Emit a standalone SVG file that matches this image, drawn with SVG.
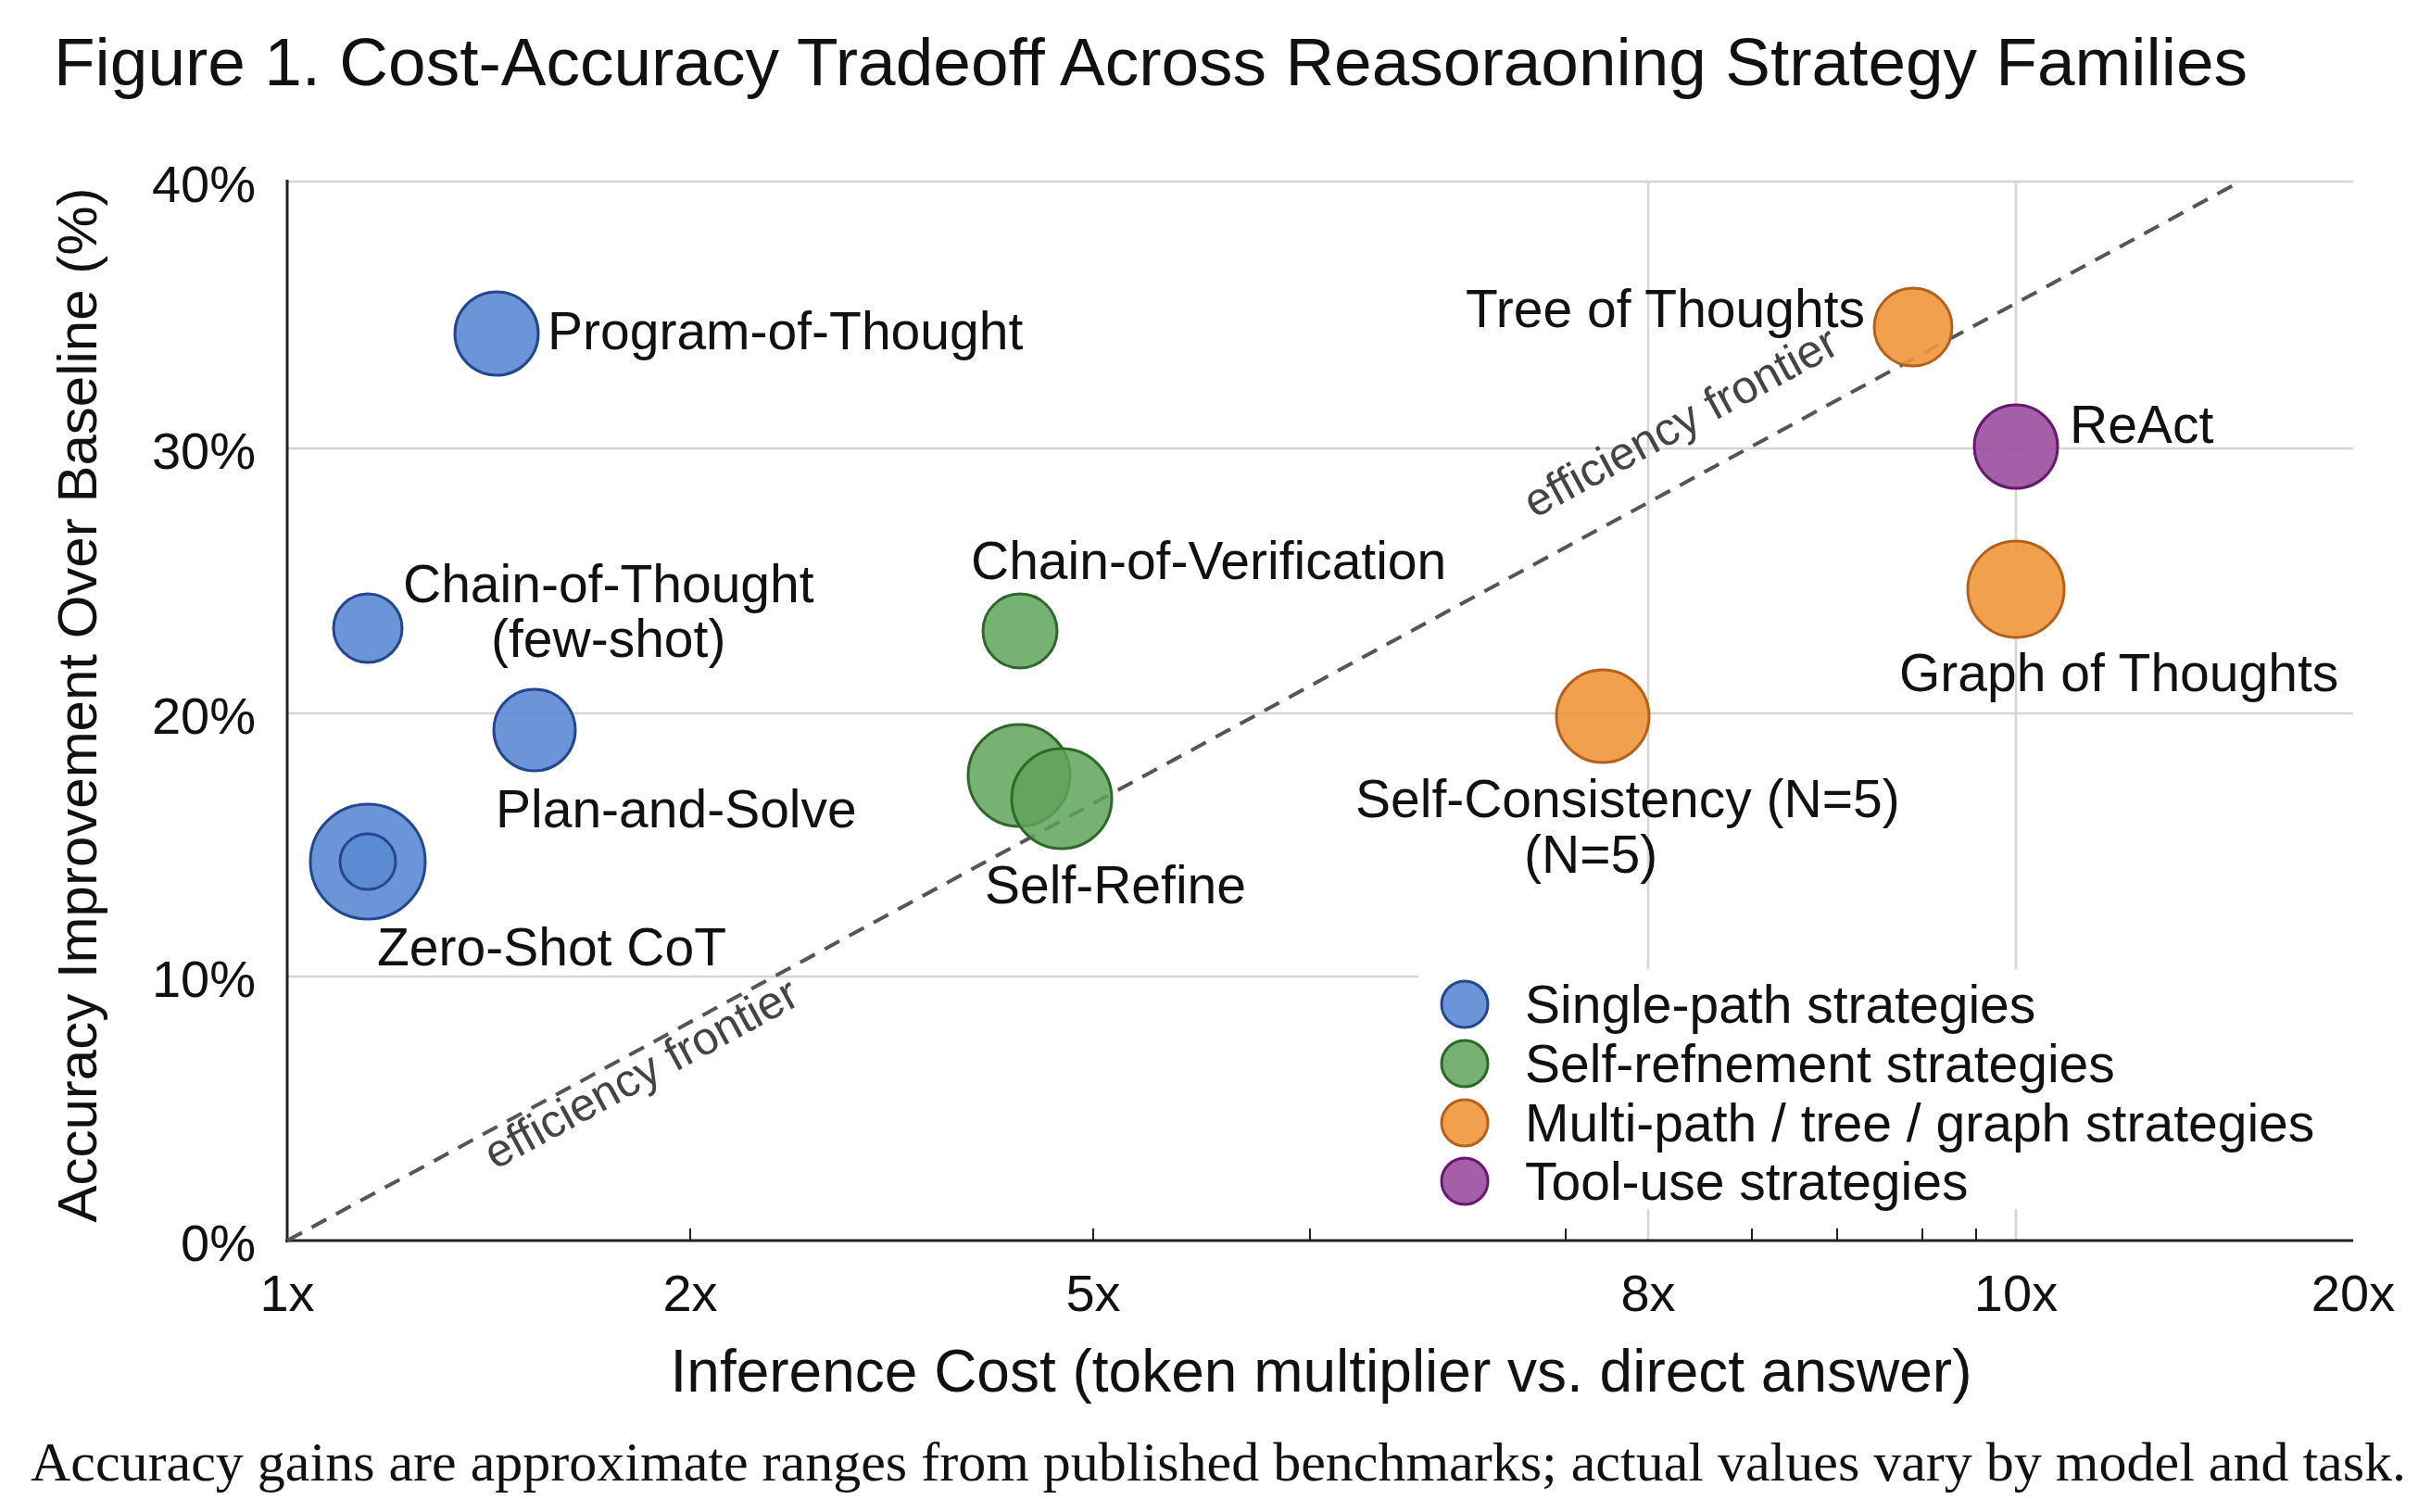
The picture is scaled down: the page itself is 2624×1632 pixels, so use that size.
<svg xmlns="http://www.w3.org/2000/svg" width="2624" height="1632" viewBox="0 0 2624 1632">
<style>
text{font-family:"Liberation Sans",Arial,sans-serif;fill:#111}
.lbl{font-size:57px}
.tick{font-size:56px}
.grid{stroke:#d4d4d4;stroke-width:2.5}
.b{fill:#5b8ad4;stroke:#24488f;stroke-width:3;fill-opacity:.9}
.g{fill:#5fa35a;stroke:#2d6a2a;stroke-width:3;fill-opacity:.85}
.o{fill:#f0963a;stroke:#b5611c;stroke-width:3;fill-opacity:.9}
.p{fill:#9b4ea0;stroke:#66196e;stroke-width:3;fill-opacity:.9}
.fr{font-size:50px;fill:#444}
</style>
<rect width="2624" height="1632" fill="#fff"/>
<text x="58" y="92" font-size="73">Figure 1. Cost-Accuracy Tradeoff Across Reasoraoning Strategy Families</text>
<g id="grid">
<line class="grid" x1="310" y1="196" x2="2540" y2="196"/>
<line class="grid" x1="310" y1="484" x2="2540" y2="484"/>
<line class="grid" x1="310" y1="770" x2="2540" y2="770"/>
<line class="grid" x1="310" y1="1054" x2="2540" y2="1054"/>
<line class="grid" x1="1779" y1="196" x2="1779" y2="1339"/>
<line class="grid" x1="2176" y1="196" x2="2176" y2="1339"/>
</g>
<g id="axes" stroke="#222" stroke-width="3">
<line x1="310" y1="194" x2="310" y2="1341"/>
<line x1="308" y1="1339" x2="2540" y2="1339"/>
<g stroke-width="2">
<line x1="1414" y1="1339" x2="1414" y2="1326"/><line x1="1690" y1="1339" x2="1690" y2="1326"/>
<line x1="1891" y1="1339" x2="1891" y2="1326"/><line x1="1983" y1="1339" x2="1983" y2="1326"/>
<line x1="2075" y1="1339" x2="2075" y2="1326"/><line x1="2133" y1="1339" x2="2133" y2="1326"/>
<line x1="745" y1="1339" x2="745" y2="1326"/><line x1="1180" y1="1339" x2="1180" y2="1326"/>
</g>
</g>
<g id="ticks">
<text x="276" y="218" text-anchor="end" class="tick">40%</text>
<text x="276" y="506" text-anchor="end" class="tick">30%</text>
<text x="276" y="792" text-anchor="end" class="tick">20%</text>
<text x="276" y="1076" text-anchor="end" class="tick">10%</text>
<text x="276" y="1361" text-anchor="end" class="tick">0%</text>
<text x="310" y="1415" text-anchor="middle" class="tick">1x</text>
<text x="745" y="1415" text-anchor="middle" class="tick">2x</text>
<text x="1180" y="1415" text-anchor="middle" class="tick">5x</text>
<text x="1779" y="1415" text-anchor="middle" class="tick">8x</text>
<text x="2176" y="1415" text-anchor="middle" class="tick">10x</text>
<text x="2540" y="1415" text-anchor="middle" class="tick">20x</text>
</g>
<text x="1426" y="1502" text-anchor="middle" font-size="64">Inference Cost (token multiplier vs. direct answer)</text>
<text transform="translate(104,761) rotate(-90)" text-anchor="middle" font-size="60">Accuracy Improvement Over Baseline (%)</text>
<g id="connectors">
<line x1="310" y1="1339" x2="2418" y2="196" stroke="#555" stroke-width="4" stroke-dasharray="18,12"/>
<text class="fr" transform="translate(1822,470) rotate(-28.5)" text-anchor="middle">efficiency frontier</text>
<text class="fr" transform="translate(700,1173) rotate(-28.5)" text-anchor="middle">efficiency frontier</text>
</g>
<g id="legend">
<rect x="1531" y="1046" width="1009" height="259" fill="#fff"/>
<circle class="b" cx="1581" cy="1084" r="25"/><text class="lbl" x="1646" y="1104">Single-path strategies</text>
<circle class="g" cx="1581" cy="1148" r="25"/><text class="lbl" x="1646" y="1168">Self-refnement strategies</text>
<circle class="o" cx="1581" cy="1212" r="25"/><text class="lbl" x="1646" y="1232">Multi-path / tree / graph strategies</text>
<circle class="p" cx="1581" cy="1275" r="25"/><text class="lbl" x="1646" y="1295">Tool-use strategies</text>
</g>
<g id="pot"><circle class="b" cx="536" cy="360" r="45"/><text class="lbl" x="591" y="377">Program-of-Thought</text></g>
<g id="cot"><circle class="b" cx="397" cy="678" r="37"/><text class="lbl" x="435" y="650">Chain-of-Thought</text><text class="lbl" x="530" y="709">(few-shot)</text></g>
<g id="ps"><circle class="b" cx="577" cy="788" r="44"/><text class="lbl" x="535" y="893">Plan-and-Solve</text></g>
<g id="zs"><circle class="b" cx="397" cy="930" r="62"/><circle class="b" cx="397" cy="930" r="30"/><text class="lbl" x="407" y="1042">Zero-Shot CoT</text></g>
<g id="cov"><circle class="g" cx="1101" cy="681" r="40"/><text class="lbl" x="1048" y="625">Chain-of-Verification</text></g>
<g id="sr"><circle class="g" cx="1100" cy="837" r="55"/><circle class="g" cx="1146" cy="862" r="54"/><text class="lbl" x="1063" y="975">Self-Refine</text></g>
<g id="tot"><circle class="o" cx="2065" cy="353" r="42"/><text class="lbl" x="2013" y="353" text-anchor="end">Tree of Thoughts</text></g>
<g id="react"><circle class="p" cx="2176" cy="482" r="45"/><text class="lbl" x="2234" y="478">ReAct</text></g>
<g id="got"><circle class="o" cx="2176" cy="636" r="52"/><text class="lbl" x="2050" y="746">Graph of Thoughts</text></g>
<g id="sc"><circle class="o" cx="1730" cy="773" r="50"/><text class="lbl" x="1463" y="882">Self-Consistency (N=5)</text><text class="lbl" x="1645" y="942">(N=5)</text></g>
<text x="33" y="1598" font-size="60" style="font-family:'Liberation Serif','Times New Roman',serif">Accuracy gains are approximate ranges from published benchmarks; actual values vary by model and task.</text>
</svg>
